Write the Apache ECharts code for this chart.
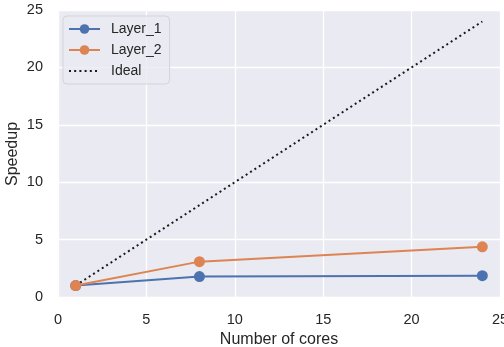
<!DOCTYPE html>
<html>
<head>
<meta charset="utf-8">
<script src="https://cdn.jsdelivr.net/npm/echarts@6/dist/echarts.min.js"></script>
<style>
  html, body { margin: 0; padding: 0; background: #fff; }
  #chart { width: 504px; height: 347px; }
</style>
</head>
<body>
<div id="chart"></div>
<script>
const cores = [1, 8, 24];
const layer1 = [1.0, 1.78, 1.86];
const layer2 = [1.0, 3.08, 4.37];
const idealX = [1, 24];
const idealY = [1, 24];

const FONT = "Liberation Sans";

function pairs(xs, ys) {
    return xs.map((x, i) => [x, ys[i]]);
}

const chart = echarts.init(document.getElementById("chart"));

chart.setOption({
    animation: false,
    textStyle: { fontFamily: FONT },
    grid: {
        left: 58, right: 4, top: 10, bottom: 50,
        outerBoundsMode: "none",
        containLabel: false,
        show: true,
        backgroundColor: "#eaeaf2",
        borderWidth: 0
    },
    // y axis title placed by hand, the axis name kept getting pushed left
    graphic: [{
        type: "text",
        x: 13, y: 154,
        rotation: Math.PI / 2,
        style: {
            text: "Speedup",
            fontFamily: FONT, fontSize: 16, fill: "#262626",
            align: "center", verticalAlign: "middle"
        }
    }],
    legend: {
        orient: "vertical",
        left: 63, top: 16,
        itemWidth: 31, itemHeight: 12,
        itemGap: 7,
        padding: [6, 8, 6, 5],
        backgroundColor: "rgba(234,234,242,0.8)",
        borderColor: "#d3d3d9",
        borderWidth: 1,
        borderRadius: 4,
        textStyle: { fontFamily: FONT, fontSize: 14, color: "#262626", padding: [0, 0, 0, 6] },
        data: ["Layer_1", "Layer_2", { name: "Ideal", itemStyle: { opacity: 0 } }]
    },
    xAxis: {
        type: "value",
        min: 0, max: 25, interval: 5,
        name: "Number of cores",
        nameLocation: "middle",
        nameGap: 34,
        nameTextStyle: { fontFamily: FONT, fontSize: 16, color: "#262626" },
        axisLine: { show: false },
        axisTick: { show: false },
        axisLabel: { fontFamily: FONT, fontSize: 14.5, color: "#262626", margin: 15 },
        splitLine: { lineStyle: { color: "#ffffff", width: 1.3 } }
    },
    yAxis: {
        type: "value",
        min: 0, max: 25, interval: 5,
        axisLine: { show: false },
        axisTick: { show: false },
        axisLabel: { fontFamily: FONT, fontSize: 14.5, color: "#262626", margin: 15 },
        splitLine: { lineStyle: { color: "#ffffff", width: 1.3 } }
    },
    series: [
        {
            name: "Layer_1",
            type: "line",
            data: pairs(cores, layer1),
            symbol: "circle",
            symbolSize: 11,
            color: "#4c72b0",
            lineStyle: { width: 2 }
        },
        {
            name: "Layer_2",
            type: "line",
            data: pairs(cores, layer2),
            symbol: "circle",
            symbolSize: 11,
            color: "#dd8452",
            lineStyle: { width: 2 }
        },
        {
            name: "Ideal",
            type: "line",
            data: pairs(idealX, idealY),
            symbol: "none",
            color: "#1a1a1a",
            z: 1,
            lineStyle: { width: 2, type: [2, 3.2] }
        }
    ]
});
</script>
</body>
</html>
